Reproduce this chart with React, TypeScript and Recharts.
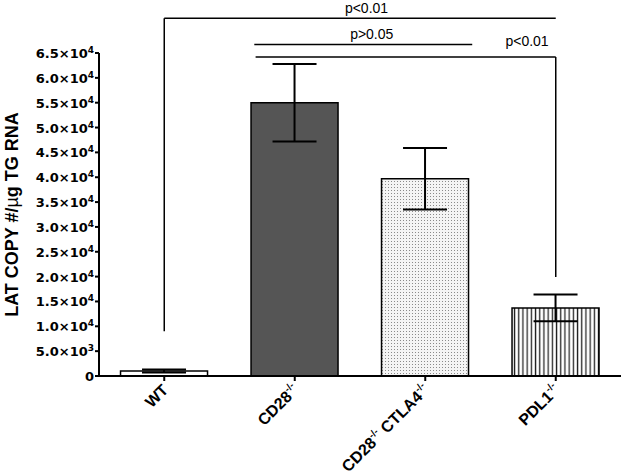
import React from "react";
import {
  Bar,
  BarChart,
  Cell,
  ErrorBar,
  ReferenceDot,
  ReferenceLine,
  XAxis,
  YAxis,
} from "recharts";

// bar groups, mean and SEM
const groups = ["WT", "CD28", "CD28CTLA4", "PDL1"];
const means = [1000, 55000, 39700, 13700];
const errors = [300, 7800, 6200, 2700];
const fills = ["#ffffff", "#555555", "url(#dots)", "url(#vlines)"];
const yTicks = [0, 5000, 10000, 15000, 20000, 25000, 30000, 35000, 40000, 45000, 50000, 55000, 60000, 65000];

// significance brackets (x on a 0..4 helper axis, y in data units)
const bracketLines = [
  { x1: 0.5, x2: 3.5, y1: 72000, y2: 72000 },
  { x1: 0.5, x2: 0.5, y1: 72000, y2: 9000 },
  { x1: 1.19, x2: 2.86, y1: 66700, y2: 66700 },
  { x1: 1.2, x2: 3.5, y1: 64200, y2: 64200 },
  { x1: 3.5, x2: 3.5, y1: 64200, y2: 19900 },
];
const bracketLabels = [
  { x: 2.05, y: 73100, text: "p<0.01" },
  { x: 2.09, y: 67800, text: "p>0.05" },
  { x: 3.28, y: 66400, text: "p<0.01" },
];

const data = groups.map((g, i) => ({ name: g, pos: i + 0.5, value: means[i], err: errors[i] }));

const FONT = "'Liberation Sans', Arial, sans-serif";

function YTick({ x, y, payload }: any) {
  const v = payload.value as number;
  const common = {
    x,
    y,
    dy: 5,
    textAnchor: "end" as const,
    fontFamily: "'DejaVu Sans', sans-serif",
    fontWeight: 700,
    fontSize: 13,
    fill: "#000",
  };
  if (v === 0) return <text {...common}>0</text>;
  const exp = v >= 10000 ? 4 : 3;
  const mant = (v / Math.pow(10, exp)).toFixed(1);
  return (
    <text {...common}>
      {mant}×10
      <tspan dy={-5} fontSize={9}>
        {exp}
      </tspan>
    </text>
  );
}

const SUP = "-/-";

function XTick({ x, y, payload }: any) {
  const name = payload.value as string;
  const ax = x + 5;
  const ay = y + 8;
  let parts: React.ReactNode;
  if (name === "WT") parts = "WT";
  else if (name === "CD28")
    parts = (
      <>
        CD28<tspan dy={-7} fontSize={10}>{SUP}</tspan>
      </>
    );
  else if (name === "PDL1")
    parts = (
      <>
        PDL1<tspan dy={-7} fontSize={10}>{SUP}</tspan>
      </>
    );
  else
    parts = (
      <>
        CD28<tspan dy={-7} fontSize={10}>{SUP}</tspan>
        <tspan dy={7}> CTLA4</tspan>
        <tspan dy={-7} fontSize={10}>{SUP}</tspan>
      </>
    );
  return (
    <text
      x={ax}
      y={ay}
      textAnchor="end"
      transform={`rotate(-45, ${ax}, ${ay})`}
      fontFamily={FONT}
      fontWeight={700}
      fontSize={16}
      fill="#000"
    >
      {parts}
    </text>
  );
}

function YLabel({ viewBox }: any) {
  const x = viewBox.x + 18;
  const y = viewBox.y + viewBox.height / 2;
  return (
    <text
      x={x}
      y={y}
      textAnchor="middle"
      transform={`rotate(-90, ${x}, ${y})`}
      fontFamily={FONT}
      fontWeight={700}
      fontSize={18}
      fill="#000"
    >
      LAT COPY #/<tspan fontWeight={400}>µ</tspan>g TG RNA
    </text>
  );
}

export default function App() {
  return (
    <div style={{ position: "absolute", left: 0, top: 0, background: "#fff" }}>
      <BarChart
        width={625}
        height={476}
        data={data}
        margin={{ top: 53, right: 4, left: 0, bottom: 0 }}
        barCategoryGap="16.5%"
      >
        <defs>
          <pattern id="dots" width="3" height="3" patternUnits="userSpaceOnUse">
            <rect width="3" height="3" fill="#f4f4f4" />
            <rect x="1" y="1" width="1" height="1" fill="#8a8a8a" />
          </pattern>
          <pattern id="vlines" width="4.2" height="4" patternUnits="userSpaceOnUse">
            <rect width="4.2" height="4" fill="#ffffff" />
            <rect x="1.5" y="0" width="1.3" height="4" fill="#222" />
          </pattern>
        </defs>
        <XAxis
          dataKey="name"
          height={100}
          interval={0}
          axisLine={{ stroke: "#000", strokeWidth: 2 }}
          tickLine={{ stroke: "#000", strokeWidth: 2 }}
          tickSize={5}
          tick={<XTick />}
        />
        <XAxis
          xAxisId="num"
          dataKey="pos"
          type="number"
          domain={[0, 4]}
          allowDataOverflow
          height={0}
          tick={false}
          axisLine={false}
          tickLine={false}
        />
        <YAxis
          width={99}
          domain={[0, 65000]}
          ticks={yTicks}
          interval={0}
          axisLine={{ stroke: "#000", strokeWidth: 2 }}
          tickLine={{ stroke: "#000", strokeWidth: 2 }}
          tickSize={4}
          tickMargin={1}
          tick={<YTick />}
          label={<YLabel />}
        />
        <Bar dataKey="value" stroke="#000" strokeWidth={1.5} isAnimationActive={false}>
          {data.map((d, i) => (
            <Cell key={d.name} fill={fills[i]} />
          ))}
          <ErrorBar dataKey="err" width={22} stroke="#000" strokeWidth={2} direction="y" />
        </Bar>
        {bracketLines.map((b, i) => (
          <ReferenceLine
            key={i}
            xAxisId="num"
            segment={[
              { x: b.x1, y: b.y1 },
              { x: b.x2, y: b.y2 },
            ]}
            stroke="#000"
            strokeWidth={1.5}
            ifOverflow="visible"
          />
        ))}
        {bracketLabels.map((l, i) => (
          <ReferenceDot
            key={i}
            xAxisId="num"
            x={l.x}
            y={l.y}
            ifOverflow="visible"
            shape={(p: any) => (
              <text x={p.cx} y={p.cy} textAnchor="middle" fontFamily={FONT} fontSize={14} fill="#000">
                {l.text}
              </text>
            )}
          />
        ))}
      </BarChart>
    </div>
  );
}
